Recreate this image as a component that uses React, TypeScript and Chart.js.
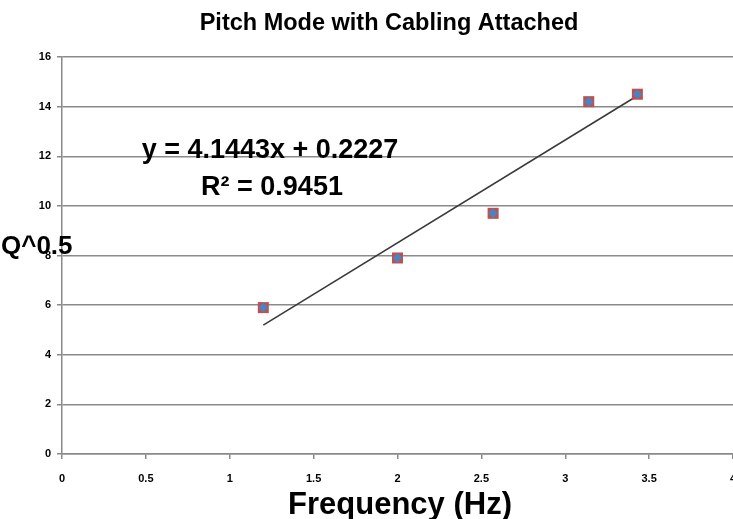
import React, { useEffect, useRef } from "react";
import { Chart, registerables } from "chart.js";

Chart.register(...registerables);

const chartTitle = "Pitch Mode with Cabling Attached";
const xAxisTitle = "Frequency (Hz)";
const yAxisTitle = "Q^0.5";
const frequency = [1.2, 2.0, 2.57, 3.14, 3.43];
const sqrtQ = [5.9, 7.9, 9.7, 14.2, 14.5];
const trendSlope = 4.1443;
const trendIntercept = 0.2227;
const equationText = "y = 4.1443x + 0.2227";
const r2Text = "R² = 0.9451";
const xTickMin = 0;
const xTickMax = 4;
const xTickStep = 0.5;
const yTickMin = 0;
const yTickMax = 16;
const yTickStep = 2;

const FONT = "'Liberation Sans', Arial, sans-serif";
const GRID = "#8a8a8a";

export default function App() {
  const ref = useRef<HTMLCanvasElement | null>(null);

  useEffect(() => {
    if (!ref.current) return;
    const points = frequency.map((x, i) => ({ x, y: sqrtQ[i] }));
    const x0 = frequency[0];
    const x1 = frequency[frequency.length - 1];
    const trend = [
      { x: x0, y: trendSlope * x0 + trendIntercept },
      { x: x1, y: trendSlope * x1 + trendIntercept },
    ];

    const textPlugin = {
      id: "texts",
      afterDraw(chart: any) {
        const ctx = chart.ctx;
        ctx.save();
        ctx.fillStyle = "#000";
        ctx.textBaseline = "middle";
        ctx.textAlign = "center";
        ctx.font = `bold 23.5px ${FONT}`;
        ctx.fillText(chartTitle, 389, 24);
        ctx.font = `bold 31px ${FONT}`;
        ctx.fillText(xAxisTitle, 400, 505);
        ctx.font = `bold 27px ${FONT}`;
        ctx.fillText(equationText, 270, 151);
        ctx.fillText(r2Text, 272, 188);
        ctx.textAlign = "left";
        ctx.font = `bold 26px ${FONT}`;
        ctx.fillText(yAxisTitle, 1, 247);
        ctx.restore();
      },
    };

    const chart = new Chart(ref.current, {
      type: "scatter",
      data: {
        datasets: [
          {
            label: "diamond",
            data: points,
            pointStyle: "rectRot",
            pointRadius: 5,
            pointHoverRadius: 5,
            backgroundColor: "#4F81BD",
            borderColor: "#4F81BD",
            borderWidth: 0,
          },
          {
            label: "square",
            data: points,
            pointStyle: "rect",
            pointRadius: 7.8,
            pointHoverRadius: 7.8,
            backgroundColor: "#C0504D",
            borderColor: "#C0504D",
            borderWidth: 0,
          },
          {
            type: "line",
            label: "trend",
            data: trend,
            borderColor: "#3a3a3a",
            borderWidth: 1.6,
            pointRadius: 0,
            fill: false,
          } as any,
        ],
      },
      options: {
        responsive: false,
        animation: false,
        layout: { autoPadding: false, padding: { top: 57, left: 0, right: 0, bottom: 0 } },
        plugins: {
          legend: { display: false },
          title: { display: false },
          tooltip: { enabled: false },
        },
        scales: {
          x: {
            type: "linear",
            min: xTickMin,
            max: xTickMax,
            ticks: {
              stepSize: xTickStep,
              color: "#000",
              font: { family: FONT, size: 11, weight: "bold" },
              padding: 13,
              maxRotation: 0,
              callback: (v: any) => String(v),
            },
            grid: {
              drawOnChartArea: false,
              drawTicks: true,
              tickLength: 5,
              tickColor: GRID,
              lineWidth: 1.5,
            },
            border: { color: GRID, width: 1.5 },
            afterFit(scale: any) {
              scale.height = 65;
              scale.paddingRight = 0;
              scale.paddingLeft = 0;
            },
          },
          y: {
            type: "linear",
            min: yTickMin,
            max: yTickMax,
            ticks: {
              stepSize: yTickStep,
              color: "#000",
              font: { family: FONT, size: 11, weight: "bold" },
              padding: 6,
            },
            grid: {
              color: GRID,
              lineWidth: 1.5,
              drawTicks: true,
              tickLength: 5,
              tickColor: GRID,
            },
            border: { color: GRID, width: 1.5 },
            afterFit(scale: any) {
              scale.width = 62;
            },
          },
        },
      },
      plugins: [textPlugin],
    });
    return () => chart.destroy();
  }, []);

  return (
    <div style={{ position: "absolute", left: 0, top: 0, width: 733, height: 519, background: "#fff" }}>
      <canvas ref={ref} width={733} height={519} />
    </div>
  );
}
